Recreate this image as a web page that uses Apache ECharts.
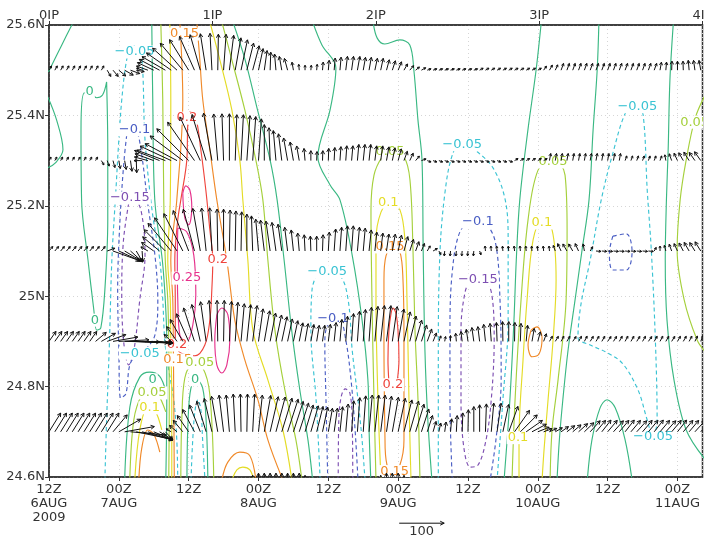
<!DOCTYPE html>
<html><head><meta charset="utf-8">
<script src="https://cdn.jsdelivr.net/npm/echarts@6/dist/echarts.min.js"></script>
<style>html,body{margin:0;padding:0;background:#fff}#c{width:704px;height:539px}</style>
</head><body><div id="c"></div>
<script>
// ---------- tick labels ----------
const xTickLabels = ['12Z\n6AUG\n2009','00Z\n7AUG','12Z','00Z\n8AUG','12Z','00Z\n9AUG','12Z','00Z\n10AUG','12Z','00Z\n11AUG'];
const yTickLabels = ['24.6N','24.8N','25N','25.2N','25.4N','25.6N'];
const topTickLabels = ['0IP','1IP','2IP','3IP','4IP'];

// ---------- wind rows (hourly from 12Z 6AUG), speed in plot units (ref = 100), direction deg CCW from east ----------
const windLats = [25.5, 25.3, 25.1, 24.9, 24.7, 24.5];
const spd255 = [11,11,11,11,11,11,11,11,11,11, 16,18,20,22,22,18, 13,27,40,51,60, 67,73,78,80,82,82,82,82,80,80, 78,73,69,62,56,49,44,40,36,31,27, 18,13,11,11,13,18, 22,27,29,31,31,31,29,29,27,27,24,22,20, 16,13,11,11, 9,9,9,9,9,9,9,9,9, 9,9,9,9,9,9,9,9,9,9,9, 11,13,13, 16,16,16,16,16,16,16,16,16,16,16,16,16,16,16,16,16, 18,18,20,20,20,22,22,22];
const dir255 = [60,60,60,60,60,60,60,60,60,60, -60,-50,-40,-30,-20,-10, 160,160,155,152,150, 145,138,130,122,114,106,99,93,89,86, 83,80,78,76,75,78,82,88,95,100,105, 100,95,90,85,85,85, 85,85,85,83,82,80,80,80,78,78,75,72,68, 60,50,40,30, 20,20,20,20,20,20,20,20,20, 30,30,30,30,30,30,30,30,30,30,30, 55,60,65, 70,70,70,70,70,70,70,70,70,70,70,70,70,70,70,70,70, 80,85,88,90,92,95,98,100];
const spd253 = [9,9,9,9,9,9,9,9,9, 11,13,16,18,20,24,27, 18,31,44,60,67, 76,80,91,100,104,107,107,107,104,104, 104,102,102,100,98,93, 80,73,67,60,51,42,33,27,22,20, 22,27,29,31,33,33,36,36,36,33,33,31,29,27, 22,18,13,11, 9,9,9,9,9,9,9,9,9,9,9,9,9,9,9, 9,9,9,9,9,9, 16,16,16,16,16,16,16,16,16,16,16,16,16, 11,11,11,11,11,11,11, 13,16,18,20,22,22,24];
const dir253 = [60,60,60,60,60,60,60,60,60, -60,-70,-75,-80,-80,-82,-88, 180,165,160,158,160, 155,152,143,135,125,115,107,100,95,92, 90,88,87,86,86,86, 90,92,95,97,100,100,100,95,90,88, 88,88,87,86,86,85,85,84,84,83,82,80,78,75, 70,65,50,20, -20,-20,-20,-20,-20,-20,-20,-20,-20,-20,-20,-20,-20,-20,-20, 30,30,30,30,30,30, 80,80,80,80,80,80,80,80,80,80,80,80,80, 70,70,70,70,70,70,70, 100,110,115,120,122,125,125];
const spd251 = [13,13,13,13,13,13,13,13,13,13, 18,62,53,44,36,28,24, 18,33,49,67,80,89,93,96,96,96,96,96, 93,93,91,89,87,82,78,71,69,67,64,60, 53,47,40,36,33,33,36,42,49,53,56,56, 53,51,47,42,40,38,38,36,33,27,22,18,13,11, 9, 11,11,11,11,11,11, 9, 11,11,11,11,11,11,11,11,11,11,11,11, 13,18,18,18,18,16,11, 11,11,11,11,11,11,11,11,11,11, 9,11,13,16,18,20,22,22,24];
const dir251 = [50,50,50,50,50,50,50,50,50,50, 20,-20,-25,-31,-42,-60,-86, 150,145,140,135,130,124,117,111,105,100,96,93, 91,90,89,89,89,90,92,95,97,98,98,98, 97,96,95,93,92,90,88,87,86,86,86,86, 85,85,84,84,83,82,80,78,75,72,70,68,60,30, -60, -95,-95,-95,-95,-95,-95, -70, 95,95,95,95,95,95,95,95,95,95,95,95, 110,115,120,120,115,100,60, -5,-5,-5,-5,-5,-5,-5,-5,-5,-5, 60,90,105,110,115,118,120,122,122];
const spd249 = [27,27,27,27,27,27,27,27, 31,36,44,56,67,78,84,80,67,56,42,29,16, 22,40,56,67,78,84,89,91,91,91,89,87,84,82,80, 73,69,64,60,56,51,47,42,40,38,36,36, 38,42,49,56,62,67,71,76,78,80,80,78, 73,67,58,49,38,29,20,13,11,13,18,22, 27,31,33,38,40,42,44,44,42,40,36,29,22,18, 13,13,13,13,13,13,13,13,13,13,13,13,13,13,13,13,13,13,13,13,13,13,13,13,13,13,13];
const dir249 = [55,55,55,55,55,55,55,55, 40,30,20,10,3,-1,-2,-3,-3,-4,-5,-6,-8, 135,125,120,114,108,103,98,94,91,89,87,86,85,84,83, 82,80,79,78,78,78,78,79,80,80,81,82, 83,84,85,86,86,86,86,86,85,84,83,82, 80,78,76,74,72,70,68,70,80,90,95,97, 98,98,97,96,94,92,91,90,89,88,85,80,75,70, 60,58,62,60,55,60,62,58,60,60,55,58,60,62,60,58,60,55,60,62,60,58,60,60,62,65,70];
const spd247 = [49,49,49,49,49,49,49,49,49,49,49, 49,56,67,80,82,71,58,46,34,24, 13,22,33,44,56,64,71,76,80,82,82,84,84,84,84, 82,82,80,80,78,76,71,67,62,60,58,56,53,53,56, 62,69,76,80,82,82,82,80,78,76,73,71,64,53, 38,24,20,22,29,36,42,49,56,60,62,64,64,62,60, 58,53,44,36,27,20,18,18,20,22,24,27,29, 33,33,33,33,33,33,33,33,33,33,33,33,33,33,33,33,33,33,33,33];
const dir247 = [58,58,58,58,58,58,58,58,58,58,58, 50,30,10,-5,-12,-15,-18,-23,-31,-47, 150,140,130,125,118,112,107,103,100,97,95,93,91,89,87, 84,80,77,75,73,72,72,72,73,74,76,78,80,82,84, 85,86,86,86,85,84,83,82,80,78,76,74,73,72, 72,74,78,82,85,87,88,89,90,90,88,85,82,78,70, 55,45,35,28,22,20,25,30,35,38,40,42,44, 48,50,52,50,48,50,52,50,48,50,50,52,50,48,50,52,50,50,48,50];
const spd245 = [67,67,67,67,67,67,67,67,67,67,67,67,67,67,67,67,67,67,67,67,67,67,67,67,67,67,67,67,67,67,67,67,67, 89,98,104, 109,109,109,109,109,109,109,109, 104,100, 89,89,89,89,89,89,89,89,89,89, 98,104, 109,109,109, 104,98, 78,78,78,78,78,78,78,78,78,78,78,78,78,78,78,78,78,78,78,78,78,78,78,78,78,78,78,78,78,78,78,78,78,78,78,78,78,78,78,78,78,78,78,78,78,78,78,78,78,78];
const dir245 = [90,90,90,90,90,90,90,90,90,90,90,90,90,90,90,90,90,90,90,90,90,90,90,90,90,90,90,90,90,90,90,90,90,90,90,90,90,90,90,90,90,90,90,90,90,90,90,90,90,90,90,90,90,90,90,90,90,90,90,90,90,90,90,90,90,90,90,90,90,90,90,90,90,90,90,90,90,90,90,90,90,90,90,90,90,90,90,90,90,90,90,90,90,90,90,90,90,90,90,90,90,90,90,90,90,90,90,90,90,90,90,90,90];

// ---------- contour lines: [hours since 12Z 6AUG, latitude] ----------
const cM15a = [[13.7,25.206],[12.8,25.124],[12.5,25.014],[12.8,24.903],[13.7,24.848],[14.6,24.881],[15.6,24.992],[16.5,25.091],[16.1,25.169],[15.1,25.206],[13.7,25.206]];
const cM15b = [[49.7,24.593],[49.8,24.726],[50.2,24.777],[50.9,24.795],[51.7,24.786],[52.1,24.726],[52.2,24.593]];
const cM15c = [[72.7,25.047],[71.5,25.009],[70.8,24.925],[70.8,24.771],[71.3,24.664],[72.4,24.622],[73.7,24.626],[75.1,24.682],[76.0,24.771],[76.5,24.903],[76.1,25.003],[74.8,25.040],[72.7,25.047]];
const cM10a = [[13.5,25.372],[12.9,25.301],[12.2,25.169],[11.8,25.014],[12.0,24.881],[12.3,24.775],[13.2,24.784],[14.1,24.855],[16.5,24.881],[18.2,24.914],[18.7,24.992],[18.2,25.091],[17.0,25.202],[15.8,25.324],[14.9,25.368],[13.5,25.372]];
const cM10b = [[47.9,24.593],[47.6,24.771],[47.4,24.892],[47.9,24.936],[50.0,24.943],[51.0,24.903],[51.9,24.815],[52.6,24.704],[53.1,24.593]];
const cM10c = [[69.3,24.593],[68.9,24.771],[68.9,24.925],[69.3,25.054],[70.6,25.142],[72.7,25.164],[74.9,25.160],[76.7,25.120],[77.5,24.992],[77.7,24.815],[76.8,24.682],[75.8,24.593]];
const cM10d = [[96.9,25.133],[99.2,25.138],[100.2,25.098],[99.2,25.058],[96.9,25.058],[96.3,25.096],[96.9,25.133]];
const cM05a = [[9.6,24.593],[9.9,24.726],[10.4,24.903],[10.8,25.080],[11.5,25.235],[12.0,25.346],[12.5,25.434],[13.2,25.512],[13.9,25.545],[14.9,25.554],[15.9,25.534],[16.5,25.346],[17.7,25.191],[19.04,25.080],[19.55,24.992],[19.9,24.901],[20.58,24.837],[21.44,24.771],[21.96,24.682],[22.13,24.593]];
const cM05b = [[46.6,24.593],[45.9,24.771],[45.0,24.925],[45.2,25.014],[46.9,25.054],[50.0,25.045],[51.4,24.992],[52.1,24.881],[53.1,24.771],[53.8,24.682],[54.3,24.593]];
const cM05c = [[66.9,24.593],[66.9,24.881],[67.2,25.102],[68.1,25.235],[69.3,25.312],[71.0,25.346],[73.2,25.324],[76.3,25.284],[78.4,25.213],[78.9,25.124],[78.9,24.947],[78.0,24.771],[77.0,24.593]];
const cM05d = [[101.1,25.423],[99.3,25.412],[96.8,25.312],[94.9,25.213],[93.0,25.080],[91.4,24.981],[90.9,24.908],[93.0,24.892],[95.6,24.877],[98.5,24.852],[101.2,24.793],[102.8,24.726],[103.8,24.689],[104.5,24.726],[104.2,24.903],[103.5,25.102],[102.8,25.235],[102.1,25.401],[101.1,25.423]];
const cM05f = [[24.4,24.593],[24.7,24.682],[25.1,24.748],[25.6,24.771],[26.1,24.748],[26.4,24.682],[26.8,24.593]];
const cZ1 = [[4.2,25.607],[2.2,25.556],[-0.1,25.496]];
const cZ2 = [[-0.2,25.441],[1.3,25.390],[2.4,25.324],[1.1,25.295],[-0.2,25.284]];
const cZ3 = [[9.9,25.474],[9.2,25.445],[8.2,25.439],[7.3,25.447],[6.1,25.450],[5.5,25.368],[5.6,25.213],[6.7,25.080],[7.7,24.970],[8.2,24.925],[8.9,24.930],[9.6,25.014],[10.1,25.169],[10.1,25.324],[9.9,25.474]];
const cZ4 = [[17.66,25.607],[17.83,25.434],[18.18,25.213],[19.47,25.080],[19.98,24.992],[20.24,24.901],[20.24,24.771],[20.07,24.593]];
const cZ5 = [[13.0,24.593],[13.9,24.755],[15.6,24.821],[17.3,24.832],[19.0,24.823],[20.1,24.788]];
const cZ6 = [[23.7,24.593],[23.9,24.726],[24.4,24.797],[25.4,24.815],[26.4,24.797],[27.0,24.726],[27.3,24.593]];
const cZ7 = [[31.6,25.607],[33.7,25.523],[35.7,25.419],[38.0,25.301],[39.2,25.213],[40.4,25.080],[41.7,24.925],[43.1,24.793],[44.5,24.682],[45.3,24.593]];
const cZ8 = [[45.3,25.607],[46.9,25.556],[49.3,25.505],[48.3,25.412],[46.2,25.308],[48.3,25.246],[50.0,25.213],[52.1,25.091],[53.8,24.947],[54.8,24.815],[55.0,24.704],[55.3,24.593]];
const cZ9 = [[55.7,25.607],[56.4,25.571],[57.7,25.558],[60.3,25.567],[62.0,25.556],[62.7,25.500],[63.4,25.390],[64.1,25.301],[64.3,25.102],[64.6,24.881],[65.1,24.726],[65.8,24.593]];
const cZ10 = [[84.6,25.607],[83.7,25.500],[82.3,25.368],[80.9,25.213],[80.3,25.080],[79.9,24.947],[79.2,24.771],[78.2,24.593]];
const cZ11 = [[94.5,25.607],[94.2,25.500],[93.5,25.368],[92.8,25.213],[91.6,25.102],[90.4,24.992],[89.2,24.881],[88.3,24.771],[87.7,24.682],[87.3,24.593]];
const cZ12 = [[107.3,25.607],[106.7,25.478],[106.4,25.324],[106.1,25.213],[105.9,25.080],[106.2,24.947],[107.4,24.815],[109.5,24.704],[112.8,24.638]];
const cZ13 = [[92.5,24.593],[93.3,24.682],[94.7,24.753],[95.9,24.771],[97.3,24.753],[99.0,24.682],[100.2,24.593]];
const cP05a = [[19.21,25.607],[19.55,25.434],[19.72,25.213],[19.98,25.080],[20.41,24.992],[20.58,24.901],[20.67,24.771],[20.58,24.593]];
const cP05b = [[13.88,24.593],[14.57,24.726],[15.94,24.782],[17.32,24.795],[18.69,24.784],[20.07,24.744]];
const cP05c = [[22.65,24.593],[22.82,24.726],[23.34,24.819],[24.71,24.850],[26.43,24.841],[27.64,24.782],[28.32,24.593]];
const cP05r = [[29.70,25.607],[31.42,25.523],[33.65,25.412],[35.55,25.301],[36.75,25.213],[37.61,25.080],[38.82,24.925],[40.53,24.793],[42.43,24.682],[43.46,24.593]];
const cP05f = [[56.19,24.593],[55.85,24.771],[55.50,24.992],[55.33,25.191],[55.85,25.268],[57.22,25.308],[58.60,25.324],[61.00,25.308],[62.03,25.257],[62.55,25.102],[62.89,24.925],[63.41,24.771],[63.75,24.593]];
const cP05d = [[79.57,24.593],[80.09,24.771],[81.12,24.992],[82.32,25.169],[84.04,25.279],[86.62,25.306],[88.68,25.268],[89.03,25.147],[88.86,24.992],[87.48,24.815],[86.45,24.704],[86.11,24.593]];
const cP05e = [[112.76,25.445],[111.04,25.394],[109.49,25.301],[108.46,25.213],[107.94,25.102],[109.15,24.992],[111.38,24.903],[112.76,24.877]];
const cP10a = [[20.76,25.607],[20.93,25.434],[20.84,25.213],[20.41,25.080],[20.84,24.992],[20.93,24.901],[21.10,24.771],[21.10,24.593]];
const cP10b = [[14.74,24.593],[15.60,24.704],[16.97,24.753],[18.18,24.748],[19.38,24.704]];
const cP10r = [[27.64,25.607],[29.36,25.523],[31.42,25.412],[32.79,25.301],[33.31,25.213],[34.17,25.080],[35.03,24.925],[37.61,24.815],[40.19,24.704],[41.74,24.593]];
const cP10f = [[57.05,24.593],[56.53,24.771],[56.19,24.992],[56.19,25.124],[57.05,25.186],[58.60,25.208],[60.31,25.191],[61.17,25.124],[61.52,24.992],[61.86,24.771],[62.20,24.593]];
const cP10c = [[80.77,24.593],[80.77,24.687],[81.46,24.859],[82.15,24.992],[83.18,25.124],[84.73,25.169],[86.45,25.147],[87.14,25.036],[86.62,24.903],[85.76,24.771],[85.07,24.660],[84.73,24.593]];
const cP10g = [[31.42,24.593],[32.28,24.616],[33.31,24.622],[34.52,24.616],[35.20,24.593]];
const cP15a = [[22.48,25.607],[22.99,25.434],[21.96,25.213],[20.93,25.080],[21.27,24.992],[21.36,24.901],[21.44,24.771],[21.53,24.593]];
const cP15b = [[15.43,24.593],[15.94,24.664],[16.97,24.704],[18.00,24.695],[19.04,24.655]];
const cP15r = [[25.40,25.607],[25.92,25.523],[26.43,25.434],[27.64,25.324],[28.84,25.213],[30.56,25.080],[31.93,24.947],[33.65,24.859],[35.89,24.771],[37.61,24.682],[40.19,24.593]];
const cP15g = [[29.70,24.593],[30.73,24.633],[32.79,24.655],[34.52,24.647],[35.55,24.593]];
const cP15f = [[57.74,24.682],[57.56,24.903],[57.56,25.036],[57.91,25.089],[59.11,25.111],[60.31,25.098],[60.83,25.036],[61.00,24.903],[61.00,24.682],[60.31,24.627],[59.11,24.612],[58.08,24.627],[57.74,24.682]];
const cP15c = [[82.84,24.925],[83.87,24.932],[84.73,24.908],[84.21,24.872],[83.01,24.866],[82.32,24.892],[82.84,24.925]];
const cP20a = [[21.70,24.901],[21.70,24.992],[21.62,25.080],[22.13,25.169],[22.65,25.213],[23.68,25.301],[23.85,25.379],[24.20,25.408],[25.23,25.394],[26.09,25.324],[26.95,25.235],[27.64,25.147],[28.15,25.080],[27.98,25.014],[27.64,24.947],[26.78,24.892],[25.05,24.868],[23.00,24.872],[21.96,24.883],[21.70,24.901]];
const cP20f = [[58.42,24.808],[58.25,24.859],[58.42,24.925],[58.77,24.961],[59.11,24.974],[59.63,24.961],[59.97,24.925],[60.14,24.859],[59.80,24.808]];
const cP25a = [[22.99,25.228],[23.51,25.244],[24.20,25.235],[24.54,25.195],[24.02,25.158],[23.34,25.173],[22.99,25.228]];
const cP25b = [[22.13,25.151],[22.05,25.080],[22.13,24.992],[22.48,24.914],[23.68,24.899],[24.71,24.936],[25.23,25.003],[24.88,25.091],[23.68,25.142],[22.13,25.151]];
const cP25c = [[28.84,24.959],[29.70,24.974],[30.73,24.959],[31.08,24.903],[30.56,24.848],[29.70,24.830],[28.84,24.848],[28.49,24.903],[28.84,24.959]];

// contour labels: [hours, latitude, level]
const contourLabels = [
  [14.7,25.540,-0.05],[23.3,25.580,0.15],[7.0,25.452,0],[14.7,25.368,-0.1],[23.7,25.394,0.2],
  [13.9,25.217,-0.15],[23.7,25.040,0.25],[29.0,25.080,0.2],[7.9,24.947,0],[15.6,24.874,-0.05],
  [22.0,24.892,0.2],[22.1,24.859,0.15],[25.9,24.852,0.05],[17.8,24.815,0],[17.7,24.786,0.05],
  [17.3,24.753,0.1],[25.1,24.815,0],[47.8,25.054,-0.05],[48.8,24.950,-0.1],[58.6,25.319,0.05],
  [58.3,25.208,0.1],[58.6,25.109,0.15],[59.1,24.804,0.2],[59.4,24.612,0.15],[71.0,25.335,-0.05],
  [73.7,25.164,-0.1],[73.7,25.036,-0.15],[86.6,25.297,0.05],[84.7,25.162,0.1],[101.1,25.419,-0.05],
  [110.95,25.385,0.05],[80.6,24.687,0.1],[103.8,24.689,-0.05]
];

// ---------- build ----------
const levelColor = {'-0.15':'#7d4fb2','-0.1':'#4a5ec4','-0.05':'#3ac3d3','0':'#3ab883','0.05':'#a5d03c','0.1':'#e4dc26','0.15':'#f08a2a','0.2':'#ef453d','0.25':'#e6328c'};
const contours = [
  [-0.15,cM15a],[-0.15,cM15b],[-0.15,cM15c],
  [-0.1,cM10a],[-0.1,cM10b],[-0.1,cM10c],[-0.1,cM10d],
  [-0.05,cM05a],[-0.05,cM05b],[-0.05,cM05c],[-0.05,cM05d],[-0.05,cM05f],
  [0,cZ1],[0,cZ2],[0,cZ3],[0,cZ4],[0,cZ5],[0,cZ6],[0,cZ7],[0,cZ8],[0,cZ9],[0,cZ10],[0,cZ11],[0,cZ12],[0,cZ13],
  [0.05,cP05a],[0.05,cP05b],[0.05,cP05c],[0.05,cP05r],[0.05,cP05f],[0.05,cP05d],[0.05,cP05e],
  [0.1,cP10a],[0.1,cP10b],[0.1,cP10r],[0.1,cP10f],[0.1,cP10c],[0.1,cP10g],
  [0.15,cP15a],[0.15,cP15b],[0.15,cP15r],[0.15,cP15g],[0.15,cP15f],[0.15,cP15c],
  [0.2,cP20a],[0.2,cP20f],
  [0.25,cP25a],[0.25,cP25b],[0.25,cP25c]
];
const windSpd = [spd255, spd253, spd251, spd249, spd247, spd245];
const windDir = [dir255, dir253, dir251, dir249, dir247, dir245];
const windData = [];
windLats.forEach((lat, r) => {
  for (let h = 0; h < windSpd[r].length; h++) windData.push([h, lat, windSpd[r][h], windDir[r][h]]);
});

const VEC_PX = 0.45;   // pixels per wind unit (reference arrow 100)
const REF_VEC = 100;
const FONT = '"DejaVu Sans", sans-serif';

function renderArrow(params, api) {
  const p = api.coord([api.value(0), api.value(1)]);
  const s = api.value(2) * VEC_PX, a = api.value(3) * Math.PI / 180;
  const dx = s * Math.cos(a), dy = -s * Math.sin(a);
  const ex = p[0] + dx, ey = p[1] + dy;
  const len = Math.hypot(dx, dy);
  const hl = Math.min(4, Math.max(2.4, len * 0.4));
  const ang = Math.atan2(dy, dx);
  const b1 = [ex - hl * Math.cos(ang - 0.5), ey - hl * Math.sin(ang - 0.5)];
  const b2 = [ex - hl * Math.cos(ang + 0.5), ey - hl * Math.sin(ang + 0.5)];
  return {type:'group', children:[
    {type:'line', shape:{x1:p[0], y1:p[1], x2:ex, y2:ey}, style:{stroke:'#111', lineWidth:1}},
    {type:'polyline', shape:{points:[b1, [ex, ey], b2]}, style:{stroke:'#111', lineWidth:1, fill:null}}
  ]};
}
function fmtLevel(v) { return v === 0 ? '0' : (v < 0 ? '\u2212' : '') + String(Math.abs(v)); }
function renderLabel(params, api) {
  const p = api.coord([api.value(0), api.value(1)]);
  const lv = api.value(2);
  return {type:'text', x:p[0], y:p[1], style:{text:fmtLevel(lv), fill:levelColor[String(lv)], font:'13px ' + FONT,
    align:'center', verticalAlign:'middle', backgroundColor:'#fff', padding:[0,1]}};
}

const series = contours.map(([lv, d]) => ({
  type:'line', data:d, smooth:0.35, symbol:'none', showSymbol:false, silent:true, z:2,
  lineStyle:{color:levelColor[String(lv)], width:1.15, type: lv < 0 ? [4,3] : 'solid'}
}));
series.push({type:'custom', renderItem:renderLabel, data:contourLabels, clip:true, z:3, silent:true});
series.push({type:'custom', renderItem:renderArrow, data:windData, clip:true, z:4, silent:true});

const chart = echarts.init(document.getElementById('c'), null, {renderer:'canvas'});
const refX = 396.7, refY = 522.7, refLen = REF_VEC * VEC_PX;
chart.setOption({
  animation:false,
  backgroundColor:'#fff',
  textStyle:{fontFamily:FONT},
  grid:{left:49, top:25, right:1.5, bottom:62, show:true, borderColor:'#333', borderWidth:1.5,
        containLabel:false, outerBoundsMode:'none'},
  xAxis:[
    {type:'value', min:0, max:112.3, interval:12, position:'bottom',
     axisLine:{show:true, onZero:false, lineStyle:{color:'#333', width:1.5}},
     axisTick:{show:true, length:4, lineStyle:{color:'#333'}},
     axisLabel:{color:'#333', fontSize:13, lineHeight:14, margin:6, fontFamily:FONT,
       formatter:(v) => xTickLabels[Math.round(v / 12)] || ''},
     splitLine:{show:true, lineStyle:{color:'#d6d6d6', type:[1,3], width:1}}},
    {type:'value', min:0, max:4, interval:1, position:'top',
     axisLine:{show:true, onZero:false, lineStyle:{color:'#333', width:1.5}},
     axisTick:{show:true, length:4, lineStyle:{color:'#333'}},
     axisLabel:{color:'#333', fontSize:13, margin:3, fontFamily:FONT, showMaxLabel:true, showMinLabel:true,
       formatter:(v) => topTickLabels[Math.round(v)] || ''},
     splitLine:{show:false}}
  ],
  yAxis:{type:'value', min:24.6, max:25.6, interval:0.2,
     axisLine:{show:true, onZero:false, lineStyle:{color:'#333', width:1.5}},
     axisTick:{show:true, length:4, lineStyle:{color:'#333'}},
     axisLabel:{color:'#333', fontSize:13, margin:4, fontFamily:FONT,
       formatter:(v) => yTickLabels[Math.round((v - 24.6) / 0.2)] || ''},
     splitLine:{show:true, lineStyle:{color:'#d6d6d6', type:[1,3], width:1}}},
  series:series,
  graphic:[{type:'group', left:refX, top:refY - 4, children:[
    {type:'line', shape:{x1:0, y1:4, x2:refLen, y2:4}, style:{stroke:'#111', lineWidth:1}},
    {type:'polyline', shape:{points:[[refLen - 4, 2], [refLen, 4], [refLen - 4, 6]]}, style:{stroke:'#111', lineWidth:1, fill:null}},
    {type:'text', x:refLen / 2, y:12, style:{text:String(REF_VEC), font:'13px ' + FONT, fill:'#333', align:'center', verticalAlign:'middle'}}
  ]}]
});
</script></body></html>
